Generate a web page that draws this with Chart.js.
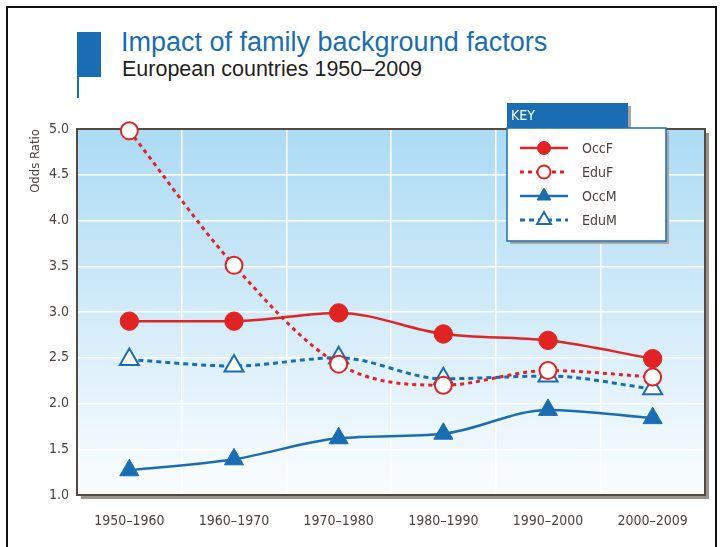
<!DOCTYPE html>
<html>
<head>
<meta charset="utf-8">
<script src="https://cdn.jsdelivr.net/npm/chart.js@4.4.1/dist/chart.umd.min.js"></script>
<style>
  body { margin: 0; width: 721px; height: 547px; overflow: hidden; position: relative; background: #fff; font-family: 'Liberation Sans', Arial, sans-serif; }
  #frame { position: absolute; left: 6px; top: 6px; width: 707px; height: 570px; border: 2px solid #111; }
  #tabBig { position: absolute; left: 77px; top: 32px; width: 24px; height: 45px; background: #1b6db3; }
  #tabLine { position: absolute; left: 77px; top: 76px; width: 2px; height: 22px; background: #1b6db3; }
  #title { position: absolute; left: 121px; top: 27px; font-size: 27px; color: #1b6db3; white-space: nowrap; }
  #subtitle { position: absolute; left: 122px; top: 57px; font-size: 21.5px; color: #231f1c; white-space: nowrap; }
  #wrap { position: absolute; left: 0; top: 0; width: 721px; height: 547px; }
</style>
</head>
<body>
<div id="frame"></div>
<div id="tabBig"></div>
<div id="tabLine"></div>
<div id="title">Impact of family background factors</div>
<div id="subtitle">European countries 1950–2009</div>
<div id="wrap"><canvas id="oddsChart" width="721" height="547"></canvas></div>
<script>
const periods = ['1950–1960', '1960–1970', '1970–1980', '1980–1990', '1990–2000', '2000–2009'];
const occF = [2.90, 2.90, 2.99, 2.76, 2.69, 2.49];
const eduF = [4.98, 3.51, 2.43, 2.20, 2.36, 2.29];
const occM = [1.27, 1.39, 1.62, 1.67, 1.93, 1.84];
const eduM = [2.48, 2.41, 2.50, 2.27, 2.30, 2.16];
const yTicks = [1.0, 1.5, 2.0, 2.5, 3.0, 3.5, 4.0, 4.5, 5.0];

const RED = '#e02424';
const BLUE = '#1b6db3';
const narrow = "'DejaVu Sans', sans-serif";
const narrowCss = 'condensed 14px ' + narrow;

// gradient panel + frame with shadow behind the plot
const panelPlugin = {
  id: 'panel',
  beforeDraw(chart) {
    const { ctx, chartArea: a } = chart;
    ctx.save();
    ctx.fillStyle = '#9a948f';
    ctx.fillRect(a.left + 4, a.top + 4, a.right - a.left, a.bottom - a.top);
    const g = ctx.createLinearGradient(0, a.top, 0, a.bottom);
    g.addColorStop(0, '#acdbf4');
    g.addColorStop(0.5, '#d2ebf9');
    g.addColorStop(1, '#fbfdff');
    ctx.fillStyle = g;
    ctx.fillRect(a.left, a.top, a.right - a.left, a.bottom - a.top);
    ctx.restore();
  },
  beforeDatasetsDraw(chart) {
    const { ctx, chartArea: a } = chart;
    ctx.save();
    ctx.strokeStyle = '#554a42';
    ctx.lineWidth = 2;
    ctx.strokeRect(a.left, a.top, a.right - a.left, a.bottom - a.top);
    ctx.restore();
  }
};

// the "KEY" box, drawn from the dataset styles
const keyPlugin = {
  id: 'keyBox',
  afterDraw(chart) {
    const ctx = chart.ctx;
    const x = 507, y = 103, w = 159, h = 138;
    ctx.save();
    ctx.fillStyle = '#a8a4a0';
    ctx.fillRect(x + 3, y + 28, w, h - 25);
    ctx.fillRect(x + 3, y + 3, 121, 25);
    ctx.fillStyle = BLUE;
    ctx.fillRect(x, y, 121, 25);
    ctx.fillStyle = '#fff';
    ctx.fillRect(x, y + 25, w, h - 25);
    ctx.strokeStyle = BLUE;
    ctx.lineWidth = 1.5;
    ctx.strokeRect(x, y + 25, w, h - 25);
    ctx.fillStyle = '#fff';
    ctx.font = 'condensed 14px ' + narrow;
    ctx.textBaseline = 'middle';
    ctx.fillText('KEY', x + 4, y + 13);

    chart.data.datasets.forEach((ds, i) => {
      const ly = y + 45 + i * 24;
      ctx.strokeStyle = ds.borderColor;
      ctx.lineWidth = ds.borderWidth;
      ctx.setLineDash(ds.borderDash);
      ctx.beginPath();
      ctx.moveTo(x + 13, ly);
      ctx.lineTo(x + 61, ly);
      ctx.stroke();
      ctx.setLineDash([]);
      ctx.fillStyle = ds.pointBackgroundColor;
      ctx.strokeStyle = ds.pointBorderColor;
      ctx.lineWidth = ds.pointBorderWidth;
      const r = ds.pointStyle === 'triangle' ? 8 : 6.5;
      Chart.helpers.drawPoint(ctx, { pointStyle: ds.pointStyle, radius: r, borderWidth: ds.pointBorderWidth, rotation: 0 }, x + 37, ly);
      ctx.fillStyle = '#4a4440';
      ctx.font = narrowCss;
      ctx.fillText(ds.label, x + 75, ly + 1);
    });
    ctx.restore();
  }
};

function series(label, data, color, filled, style, dash) {
  return {
    label: label,
    data: data,
    borderColor: color,
    borderWidth: dash.length ? 3 : 2.5,
    borderDash: dash,
    pointStyle: style,
    pointRadius: style === 'triangle' ? 11 : (filled ? 9.2 : 8.5),
    pointBackgroundColor: filled ? color : '#ffffff',
    pointBorderColor: color,
    pointBorderWidth: filled ? 1 : 2,
    cubicInterpolationMode: 'monotone',
    clip: false
  };
}

new Chart(document.getElementById('oddsChart'), {
  type: 'line',
  data: {
    labels: periods,
    datasets: [
      series('OccF', occF, RED, true, 'circle', []),
      series('EduF', eduF, RED, false, 'circle', [4, 4]),
      series('OccM', occM, BLUE, true, 'triangle', []),
      series('EduM', eduM, BLUE, false, 'triangle', [5, 4])
    ]
  },
  options: {
    responsive: false,
    animation: false,
    layout: { padding: { top: 129, right: 16, left: 0, bottom: 0 } },
    plugins: { legend: { display: false }, tooltip: { enabled: false } },
    scales: {
      x: {
        offset: true,
        grid: { offset: true, color: '#ffffff', lineWidth: 1.5, drawTicks: false },
        border: { display: false },
        ticks: { color: '#4a4440', font: { family: narrow, size: 14, weight: 'condensed' }, padding: 18 },
        afterFit(s) { s.height = 52; }
      },
      y: {
        min: 1,
        max: 5,
        afterBuildTicks(s) { s.ticks = yTicks.map(v => ({ value: v })); },
        grid: { color: '#ffffff', lineWidth: 1.5, drawTicks: false },
        border: { display: false },
        ticks: { color: '#4a4440', font: { family: narrow, size: 14, weight: 'condensed' }, padding: 8, callback: v => v.toFixed(1) },
        title: { display: true, text: 'Odds Ratio', align: 'end', color: '#4a4440', font: { family: narrow, size: 13, weight: 'condensed' }, padding: { top: 28, bottom: 0 } },
        afterFit(s) { s.width = 77; }
      }
    }
  },
  plugins: [panelPlugin, keyPlugin]
});
</script>
</body>
</html>
